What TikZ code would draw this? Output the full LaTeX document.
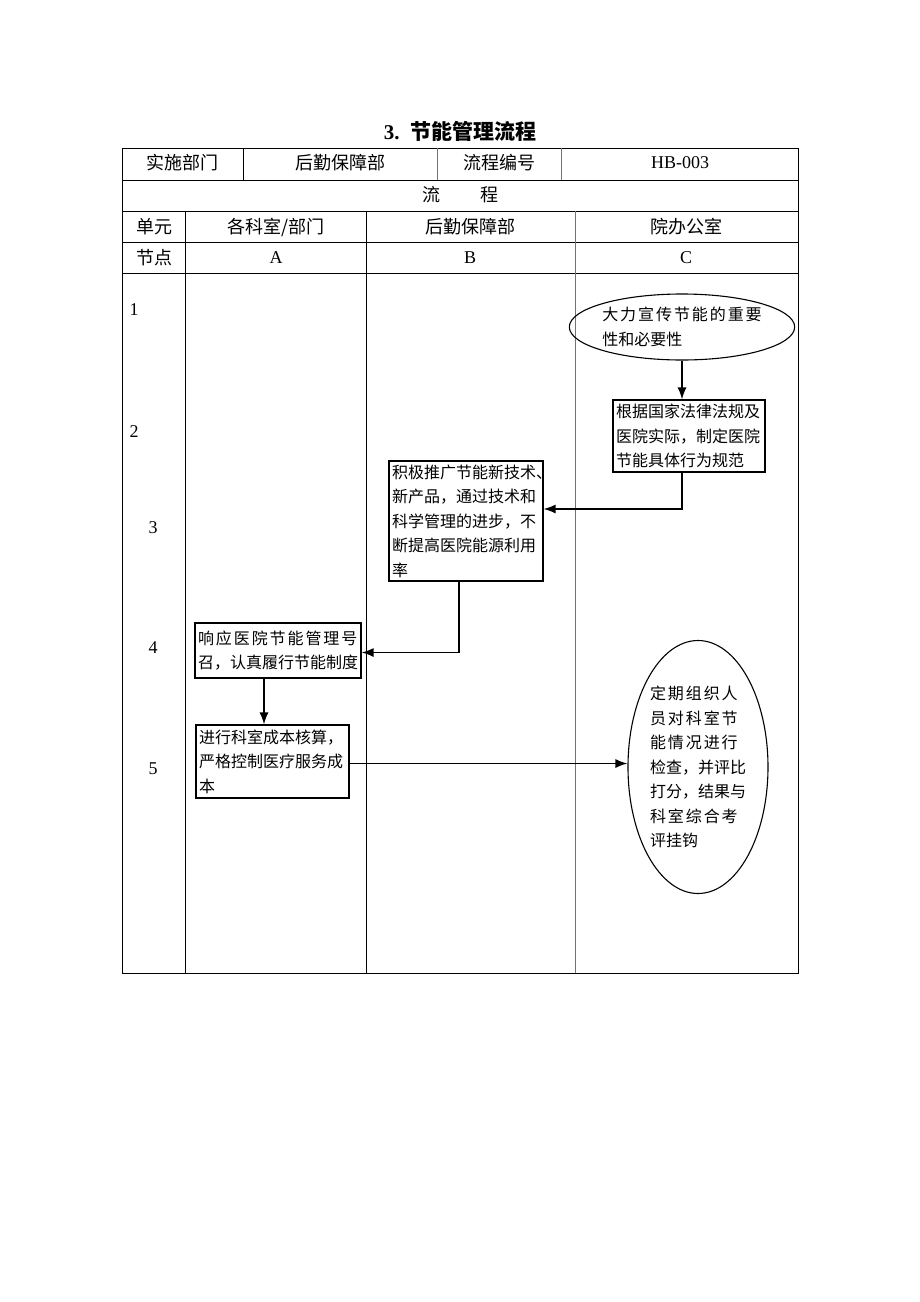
\documentclass[tikz,border=0pt]{standalone}
\usepackage{fontspec}
\setmainfont{Liberation Serif}
\newfontfamily\cjk{Noto Sans CJK SC}
\newfontfamily\cjkw[LetterSpace=12]{Noto Sans CJK SC}
\usetikzlibrary{shapes.geometric,arrows.meta}
\begin{document}
\begin{tikzpicture}[x=1pt,y=-1pt,
  tbl/.style={line width=1pt},
  tg/.style={line width=1pt, draw=black!55},
  cell/.style={font=\fontsize{18}{20}\selectfont\cjk, inner sep=0pt},
  num/.style={font=\fontsize{18}{20}\selectfont, inner sep=0pt},
  box/.style={draw, line width=1.1pt, align=left, inner sep=3pt, font=\fontsize{16}{24.5}\selectfont\cjk},
  oval/.style={draw, ellipse, line width=1.1pt, align=left, inner sep=0pt, font=\fontsize{16}{24.5}\selectfont\cjk},
  arr/.style={line width=1.5pt, -{Latex[length=12pt,width=9pt]}}
]
\useasboundingbox (0,0) rectangle (920,1302);
\fill[white] (0,0) rectangle (920,1302);

% title
\node[inner sep=0pt, font=\fontsize{21}{24}\selectfont\bfseries] (title) at (460,131) {3.\ \ {\cjk 节能管理流程}};

% table frame
\draw[tbl] (122,148) rectangle (798,973);
\draw[tbl] (122,180) -- (798,180);
\draw[tbl] (122,211) -- (798,211);
\draw[tbl] (122,242) -- (798,242);
\draw[tbl] (122,273) -- (798,273);
\draw[tbl] (243,148) -- (243,180);
\draw[tg] (437,148) -- (437,180);
\draw[tg] (561,148) -- (561,180);
\draw[tbl] (185,211) -- (185,973);
\draw[tbl] (366,211) -- (366,973);
\draw[tg] (575,211) -- (575,973);

% header texts
\node[cell] (h1) at (182,163) {实施部门};
\node[cell] (h2) at (340,163) {后勤保障部};
\node[cell] (h3) at (499,163) {流程编号};
\node[num] (h4) at (680,163) {HB-003};
\node[cell] (h5) at (460,195) {流\hspace{40pt}程};
\node[cell] (u0) at (154,227) {单元};
\node[cell] (u1) at (276,227) {各科室/部门};
\node[cell] (u2) at (470,227) {后勤保障部};
\node[cell] (u3) at (686,227) {院办公室};
\node[cell] (n0) at (154,258) {节点};
\node[num] (n1) at (276,258) {A};
\node[num] (n2) at (470,258) {B};
\node[num] (n3) at (686,258) {C};

% row numbers
\node[num] (r1) at (134,310) {1};
\node[num] (r2) at (134,432) {2};
\node[num] (r3) at (153,528) {3};
\node[num] (r4) at (153,648) {4};
\node[num] (r5) at (153,769) {5};

% flow nodes
\node[oval, minimum width=221pt, minimum height=66pt] (e1) at (682,327) {{\cjkw 大力宣传节能的重要}\\性和必要性};
\node[box, text width=146pt, minimum height=72pt] (b2) at (689,436) {根据国家法律法规及\\医院实际，制定医院\\节能具体行为规范};
\node[box, text width=148pt, minimum height=120pt] (b3) at (466,521) {积极推广节能新技术、\\新产品，通过技术和\\科学管理的进步，不\\断提高医院能源利用\\率};
\node[box, text width=160pt, minimum height=55pt] (b4) at (278,650.5) {{\cjkw 响应医院节能管理号}\\召，认真履行节能制度};
\node[box, text width=147pt, minimum height=73pt] (b5) at (272.5,761.5) {进行科室成本核算，\\严格控制医疗服务成\\本};
\node[oval, minimum width=140pt, minimum height=253pt] (e2) at (698,767) {{\cjkw 定期组织人}\\{\cjkw 员对科室节}\\{\cjkw 能情况进行}\\检查，并评比\\打分，结果与\\{\cjkw 科室综合考}\\评挂钩};

% connectors
\draw[arr] (e1.south) -- (e1.south |- b2.north);
\draw[arr] ([xshift=-7pt]b2.south) |- ([yshift=12pt]b3.east);
\draw[arr] ([xshift=-7pt]b3.south) |- ([yshift=-2pt]b4.east);
\draw[arr] ([xshift=-14pt]b4.south) -- ([xshift=-14pt]b4.south |- b5.north);
\draw[arr] ([yshift=-2pt]b5.east) -- ([yshift=-2pt]b5.east -| e2.west);
\end{tikzpicture}
\end{document}
